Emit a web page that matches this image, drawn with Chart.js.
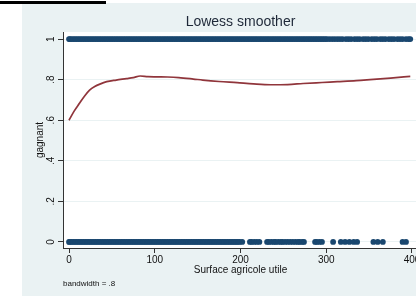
<!DOCTYPE html>
<html><head><meta charset="utf-8">
<script src="https://cdn.jsdelivr.net/npm/chart.js@4"></script>
<style>
html,body{margin:0;padding:0;background:#fff;overflow:hidden;width:416px;height:296px;}
#wrap{position:relative;width:440px;height:296px;}
canvas{display:block;}
</style></head><body>
<div id="wrap"><canvas id="c" width="440" height="296"></canvas></div>
<script>
const chartTitle = 'Lowess smoother';
const xTitle = 'Surface agricole utile';
const yTitle = 'gagnant';
const note = 'bandwidth = .8';
const xTicks = [0, 100, 200, 300, 400];
const yTicks = [0, 0.2, 0.4, 0.6, 0.8, 1];
const yTickLabels = ['0', '.2', '.4', '.6', '.8', '1'];

// Surface agricole utile of observations with gagnant = 1
const winX = [0,1,3,5,7,9,11,13,15,17,19,21,23,25,27,29,31,33,35,37,39,41,43,45,47,49,51,53,55,57,59,61,63,65,67,69,71,73,75,77,79,81,83,85,87,89,91,93,95,97,99,101,103,105,107,109,111,113,115,117,119,121,123,125,127,129,131,133,135,137,139,141,143,145,147,149,151,153,155,157,159,161,163,165,167,169,171,173,175,177,179,181,183,185,187,189,191,193,195,197,199,201,203,205,207,209,211,213,215,217,219,221,223,225,227,229,231,233,235,237,239,241,243,245,247,249,251,253,255,257,259,261,263,265,267,269,271,273,275,277,279,281,283,285,287,289,291,293,295,297,299,301,304,307,310,313,316,319,323,326,329,333,336,339,343,346,349,353,356,359,363,366,369,373,376,379,383,386,389,393,396,398];
// Surface agricole utile of observations with gagnant = 0
const loseX = [0,1,3,5,7,9,11,13,15,17,19,21,23,25,27,29,31,33,35,37,39,41,43,45,47,49,51,53,55,57,59,61,63,65,67,69,71,73,75,77,79,81,83,85,87,89,91,93,95,97,99,101,103,105,107,109,111,113,115,117,119,121,123,125,127,129,131,133,135,137,139,141,143,145,147,149,151,153,155,157,159,161,163,165,167,169,171,173,175,177,179,181,183,185,187,189,191,193,195,197,199,202,211,213,216,219,222,231,233,236,239,241,244,247,249,252,255,258,261,264,267,269,272,274,287,289,292,295,308,317,322,327,332,336,355,360,366,389,393];

// Lowess smoother
const smoothX = [0,6,12,18,24,30,36,44,55,67,75,83,92,102,115,128,145,156,175,196,215,235,255,273,295,313,335,351,375,398];
const smoothY = [0.600,0.645,0.682,0.718,0.748,0.766,0.778,0.790,0.798,0.805,0.810,0.818,0.815,0.814,0.813,0.810,0.803,0.798,0.791,0.785,0.779,0.775,0.776,0.781,0.786,0.790,0.795,0.800,0.808,0.816];

const FONT = "'Liberation Sans', Arial, sans-serif";

const bgPlugin = {
  id: 'bg',
  beforeDraw(chart) {
    const ctx = chart.ctx, a = chart.chartArea;
    ctx.save();
    ctx.fillStyle = '#ffffff';
    ctx.fillRect(0, 0, chart.width, chart.height);
    ctx.fillStyle = '#EAF2F3';
    ctx.fillRect(22, 3, chart.width - 22, chart.height - 3);
    ctx.fillStyle = '#000000';
    ctx.fillRect(0, 1, 106, 3);
    ctx.fillStyle = '#ffffff';
    ctx.fillRect(a.left, a.top, a.right - a.left, a.bottom - a.top);
    ctx.restore();
  }
};

new Chart(document.getElementById('c'), {
  type: 'scatter',
  data: {
    datasets: [
      { data: winX.map(x => ({x: x, y: 1})), backgroundColor: '#1A476F', borderWidth: 0, pointRadius: 2.9, pointHoverRadius: 2.9 },
      { data: loseX.map(x => ({x: x, y: 0})), backgroundColor: '#1A476F', borderWidth: 0, pointRadius: 2.9, pointHoverRadius: 2.9 },
      { data: smoothX.map((x, i) => ({x: x, y: smoothY[i]})), showLine: true, borderColor: '#90353B', borderWidth: 1.7, pointRadius: 0, pointHoverRadius: 0, cubicInterpolationMode: 'monotone', fill: false }
    ]
  },
  options: {
    responsive: false,
    devicePixelRatio: 1,
    animation: false,
    layout: { padding: { left: 0, right: 22, top: 0, bottom: 0 } },
    plugins: {
      legend: { display: false },
      tooltip: { enabled: false },
      title: { display: true, text: chartTitle, fullSize: false, color: '#1e2838', font: { family: FONT, size: 14, weight: 'normal' }, padding: { top: 14.1, bottom: 1.1 } },
      subtitle: { display: true, text: note, position: 'bottom', align: 'start', fullSize: false, color: '#111', font: { family: FONT, size: 8, weight: 'normal' }, padding: { top: 0, bottom: 7.7 } }
    },
    scales: {
      x: {
        type: 'linear', min: -7, max: 407,
        afterBuildTicks: s => { s.ticks = xTicks.map(v => ({value: v})); },
        afterFit: s => { s.height = 30.7; s.paddingLeft = 0; s.paddingRight = 0; },
        grid: { display: true, drawOnChartArea: false, drawTicks: true, tickLength: 5, tickColor: '#333', color: '#333' },
        border: { display: true, color: '#333', width: 1 },
        ticks: { padding: 1, color: '#111', font: { family: FONT, size: 10 }, maxRotation: 0, autoSkip: false },
        title: { display: true, text: xTitle, color: '#111', font: { family: FONT, size: 10 }, padding: { top: 0, bottom: 2.7 } }
      },
      y: {
        type: 'linear', min: -0.03, max: 1.035,
        afterBuildTicks: s => { s.ticks = yTicks.map(v => ({value: v})); },
        afterFit: s => { s.width = 63; s.paddingTop = 0; s.paddingBottom = 0; },
        grid: { display: true, color: '#EAF2F3', lineWidth: 1, drawTicks: true, tickLength: 5, tickColor: '#333' },
        border: { display: true, color: '#333', width: 1 },
        ticks: { callback: (v, i) => yTickLabels[i], minRotation: 90, maxRotation: 90, crossAlign: 'center', padding: 2.8, color: '#111', font: { family: FONT, size: 10 }, autoSkip: false },
        title: { display: true, text: yTitle, color: '#111', font: { family: FONT, size: 10 }, padding: { top: 34, bottom: 0 } }
      }
    }
  },
  plugins: [bgPlugin]
});
</script>
</body></html>
